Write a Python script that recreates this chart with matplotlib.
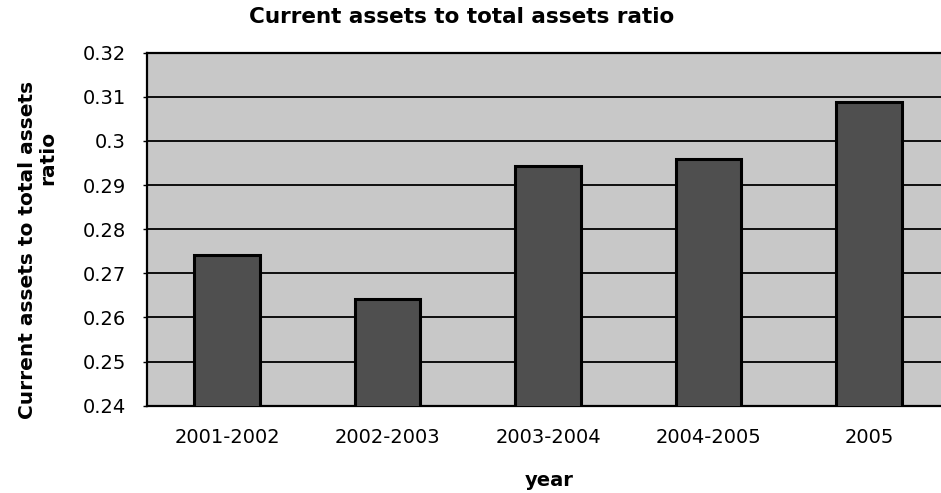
import matplotlib
matplotlib.use("Agg")
import matplotlib.pyplot as plt

# Data
periods = ["2001-2002", "2002-2003", "2003-2004", "2004-2005", "2005"]
ratio = [0.2742, 0.2641, 0.2944, 0.2959, 0.3088]
y_ticks = [0.24, 0.25, 0.26, 0.27, 0.28, 0.29, 0.30, 0.31, 0.32]
y_tick_labels = ["0.24", "0.25", "0.26", "0.27", "0.28", "0.29", "0.3", "0.31", "0.32"]

W, H = 941, 493
fig = plt.figure(figsize=(W / 100, H / 100), dpi=100)
ax = fig.add_axes([146.75 / W, 87.3 / H, 802.5 / W, 353 / H])

ax.set_facecolor("#c8c8c8")
x = list(range(len(periods)))
ax.bar(x, ratio, width=0.405, color="#4f4f4f", edgecolor="black",
       linewidth=2.2, zorder=3)

ax.set_xlim(-0.5, len(periods) - 0.5)
ax.set_ylim(y_ticks[0], y_ticks[-1])
ax.set_yticks(y_ticks, y_tick_labels)
ax.set_xticks(x, periods)

ax.yaxis.grid(True, color="black", linewidth=1.3)
ax.set_axisbelow(True)

for side in ("left", "bottom", "top"):
    ax.spines[side].set_color("black")
    ax.spines[side].set_linewidth(1.6)
ax.spines["right"].set_visible(False)

ax.tick_params(axis="y", length=3, width=1, pad=12, labelsize=14, colors="black")
ax.tick_params(axis="x", length=0, pad=16, labelsize=14, colors="black")

fig.text(462 / W, 1 - 17 / H, "Current assets to total assets ratio",
         ha="center", va="center", fontsize=15.5, fontweight="bold")
fig.text(549 / W, 1 - 480 / H, "year", ha="center", va="center",
         fontsize=14, fontweight="bold")
fig.text(28 / W, 1 - 250 / H, "Current assets to total assets", rotation=90,
         ha="center", va="center", fontsize=14.5, fontweight="bold")
fig.text(48 / W, 1 - 158 / H, "ratio", rotation=90,
         ha="center", va="center", fontsize=14.5, fontweight="bold")

fig.savefig("out.png", dpi=100)
